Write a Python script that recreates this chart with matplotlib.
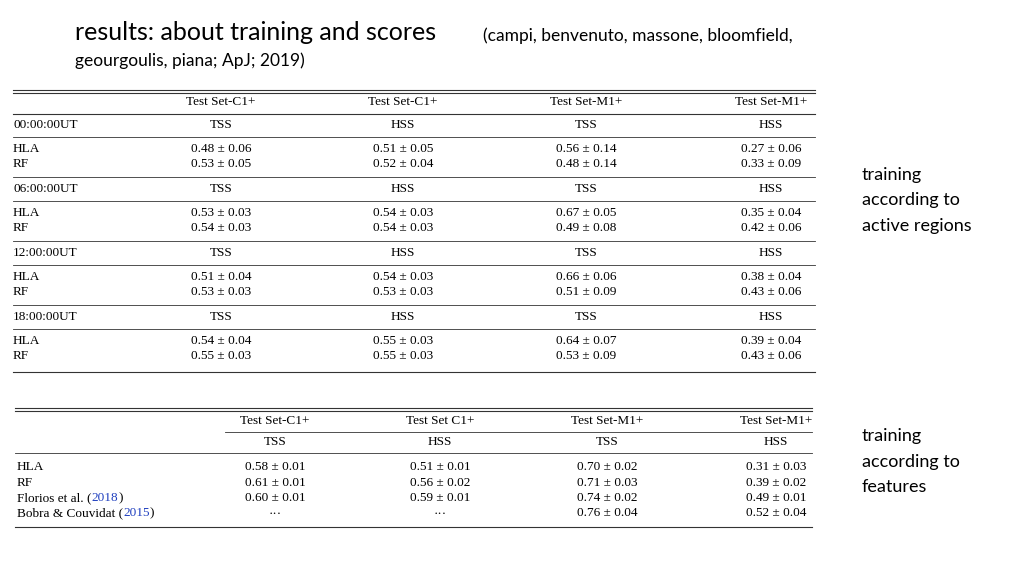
import matplotlib
matplotlib.use('Agg')
import matplotlib.pyplot as plt

# ---- table 1: training according to active regions ----
HEADERS_1 = ['Test Set-C1+', 'Test Set-C1+', 'Test Set-M1+', 'Test Set-M1+']
SCORES = ['TSS', 'HSS', 'TSS', 'HSS']
TIMES = ['00:00:00UT', '06:00:00UT', '12:00:00UT', '18:00:00UT']
HLA_1 = [
    ['0.48 ± 0.06', '0.51 ± 0.05', '0.56 ± 0.14', '0.27 ± 0.06'],
    ['0.53 ± 0.03', '0.54 ± 0.03', '0.67 ± 0.05', '0.35 ± 0.04'],
    ['0.51 ± 0.04', '0.54 ± 0.03', '0.66 ± 0.06', '0.38 ± 0.04'],
    ['0.54 ± 0.04', '0.55 ± 0.03', '0.64 ± 0.07', '0.39 ± 0.04'],
]
RF_1 = [
    ['0.53 ± 0.05', '0.52 ± 0.04', '0.48 ± 0.14', '0.33 ± 0.09'],
    ['0.54 ± 0.03', '0.54 ± 0.03', '0.49 ± 0.08', '0.42 ± 0.06'],
    ['0.53 ± 0.03', '0.53 ± 0.03', '0.51 ± 0.09', '0.43 ± 0.06'],
    ['0.55 ± 0.03', '0.55 ± 0.03', '0.53 ± 0.09', '0.43 ± 0.06'],
]

# ---- table 2: training according to features ----
HEADERS_2 = ['Test Set-C1+', 'Test Set C1+', 'Test Set-M1+', 'Test Set-M1+']
METHODS_2 = [('HLA', ''), ('RF', ''), ('Florios et al. (', '2018'), ('Bobra & Couvidat (', '2015')]
ROWS_2 = [
    ['0.58 ± 0.01', '0.51 ± 0.01', '0.70 ± 0.02', '0.31 ± 0.03'],
    ['0.61 ± 0.01', '0.56 ± 0.02', '0.71 ± 0.03', '0.39 ± 0.02'],
    ['0.60 ± 0.01', '0.59 ± 0.01', '0.74 ± 0.02', '0.49 ± 0.01'],
    ['···', '···', '0.76 ± 0.04', '0.52 ± 0.04'],
]

SERIF = 'Liberation Serif'
SANS = 'Lato'
FS = 9.5

fig = plt.figure(figsize=(10.24, 5.76), dpi=100)
ax = fig.add_axes([0, 0, 1, 1])
ax.set_xlim(0, 1024)
ax.set_ylim(576, 0)
ax.axis('off')

# title
ax.text(75, 33, 'results: about training and scores', fontsize=18, family=SANS, va='center')
ax.text(483, 36, '(campi, benvenuto, massone, bloomfield,', fontsize=12.5, family=SANS, va='center')
ax.text(75, 61, 'geourgoulis, piana; ApJ; 2019)', fontsize=12.5, family=SANS, va='center')


def hline(y, x0, x1, lw=0.8):
    ax.plot([x0, x1], [y, y], color='#333333', lw=lw)


# table 1
X0, X1 = 13, 815
COLS_1 = [221, 403, 586, 771]
hline(90, X0, X1)
hline(93, X0, X1)
for cx, h in zip(COLS_1, HEADERS_1):
    ax.text(cx, 102, h, fontsize=FS, family=SERIF, ha='center', va='center')
hline(114, X0, X1)
y = 125
for i, t in enumerate(TIMES):
    ax.text(X0, y, t, fontsize=FS, family=SERIF, va='center')
    for cx, s in zip(COLS_1, SCORES):
        ax.text(cx, y, s, fontsize=FS, family=SERIF, ha='center', va='center')
    hline(y + 12, X0, X1, 0.6)
    ax.text(X0, y + 24, 'HLA', fontsize=FS, family=SERIF, va='center')
    ax.text(X0, y + 39, 'RF', fontsize=FS, family=SERIF, va='center')
    for cx, a, b in zip(COLS_1, HLA_1[i], RF_1[i]):
        ax.text(cx, y + 24, a, fontsize=FS, family=SERIF, ha='center', va='center')
        ax.text(cx, y + 39, b, fontsize=FS, family=SERIF, ha='center', va='center')
    if i < len(TIMES) - 1:
        hline(y + 52, X0, X1, 0.6)
    y += 64
hline(372, X0, X1)

# table 2
X0, X1 = 15, 812
COLS_2 = [275, 440, 607, 776]
hline(408, X0, X1)
hline(411, X0, X1)
for cx, h in zip(COLS_2, HEADERS_2):
    ax.text(cx, 421, h, fontsize=FS, family=SERIF, ha='center', va='center')
hline(432, 225, X1, 0.6)
for cx, s in zip(COLS_2, SCORES):
    ax.text(cx, 442, s, fontsize=FS, family=SERIF, ha='center', va='center')
hline(453, X0, X1, 0.6)
for k, ((m, yr), row) in enumerate(zip(METHODS_2, ROWS_2)):
    yy = 467 + k * 15.5
    t = ax.text(17, yy, m, fontsize=FS, family=SERIF, va='center')
    if yr:
        t = ax.annotate(yr, xycoords=t, xy=(1, 0.5), va='center', fontsize=FS,
                        family=SERIF, color='#1f3fbf')
        ax.annotate(')', xycoords=t, xy=(1, 0.5), va='center', fontsize=FS, family=SERIF)
    for cx, v in zip(COLS_2, row):
        ax.text(cx, yy, v, fontsize=FS, family=SERIF, ha='center', va='center')
hline(527, X0, X1)

# side notes
for yy, s in zip([175, 200, 226], ['training', 'according to', 'active regions']):
    ax.text(862, yy, s, fontsize=13, family=SANS, va='center')
for yy, s in zip([436, 462, 487], ['training', 'according to', 'features']):
    ax.text(862, yy, s, fontsize=13, family=SANS, va='center')

fig.savefig('out.png', dpi=100)
